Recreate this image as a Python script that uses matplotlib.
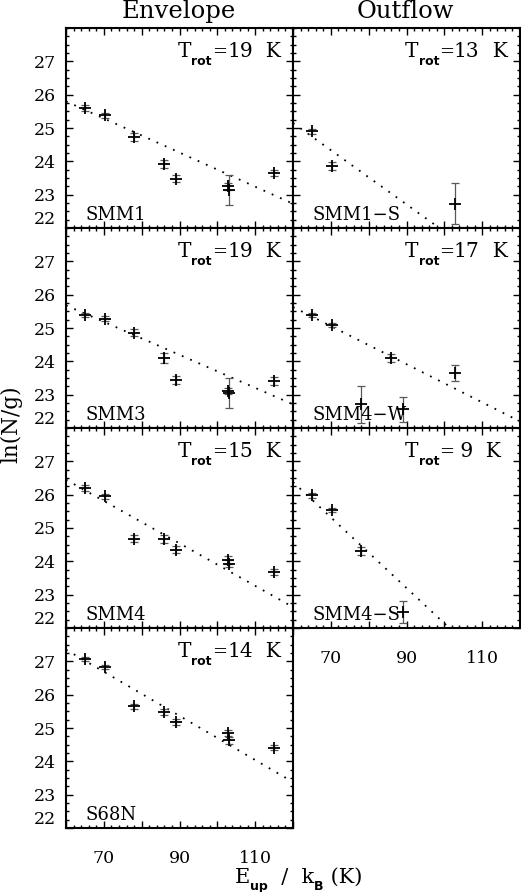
import numpy as np
import matplotlib
matplotlib.use("Agg")
import matplotlib.pyplot as plt
from matplotlib.ticker import MultipleLocator, FixedLocator, NullFormatter

plt.rcParams["font.family"] = "DejaVu Serif"
plt.rcParams["axes.linewidth"] = 1.5

# upper level energies (K) of the observed lines
e_up = [65.0, 70.3, 78.0, 85.9, 89.0, 102.8, 103.1, 115.0]

smm1_y = [25.60, 25.38, 24.72, 23.93, 23.48, 23.25, 23.15, 23.65]
smm1_err = [0.08, 0.08, 0.12, 0.12, 0.10, 0.10, 0.45, 0.10]

smm3_y = [25.40, 25.28, 24.86, 24.10, 23.45, 23.11, 23.05, 23.40]
smm3_err = [0.06, 0.08, 0.10, 0.15, 0.12, 0.10, 0.45, 0.12]

smm4_y = [26.20, 25.95, 24.68, 24.68, 24.35, 24.05, 23.93, 23.68]
smm4_err = [0.08, 0.08, 0.10, 0.12, 0.10, 0.12, 0.10, 0.10]

s68n_y = [27.08, 26.83, 25.65, 25.48, 25.18, 24.85, 24.63, 24.41]
s68n_err = [0.06, 0.06, 0.08, 0.08, 0.10, 0.10, 0.10, 0.08]

smm1s_x = [65.0, 70.4, 102.8]
smm1s_y = [24.90, 23.85, 22.73]
smm1s_err = [0.08, 0.12, 0.62]

smm4w_x = [65.0, 70.4, 77.9, 86.0, 89.0, 102.8]
smm4w_y = [25.40, 25.10, 22.71, 24.10, 22.56, 23.65]
smm4w_err = [0.06, 0.06, 0.56, 0.12, 0.38, 0.24]

smm4s_x = [65.0, 70.4, 77.9, 89.0]
smm4s_y = [25.98, 25.53, 24.30, 22.47]
smm4s_err = [0.08, 0.06, 0.12, 0.33]

# rotation diagram fits: ln(N/g) at E=60 K and slope (-1/T)
names = ["SMM1", "SMM3", "SMM4", "S68N", "SMM1-S", "SMM4-W", "SMM4-S"]
t_rot = [19, 19, 15, 14, 13, 17, 9]
fit_y60 = [25.80, 25.68, 26.45, 27.35, 25.15, 25.63, 26.38]
fit_slope = [-0.0512, -0.0495, -0.0637, -0.0662, -0.0814, -0.0572, -0.106]

W, H = 521, 892
col_x = [66, 293]
col_w = 227
row_top = [28, 228, 428, 628]
row_h = 200

SERIF = dict(family="DejaVu Serif")
SUB = dict(family="DejaVu Sans", weight="bold")


def panel_axes(fig, col, row):
    left = col_x[col] / W
    bottom = 1 - (row_top[row] + row_h) / H
    return fig.add_axes([left, bottom, col_w / W, row_h / H])


def style_axes(ax, show_x, show_y):
    ax.set_xlim(60, 120)
    ax.set_ylim(22, 28)
    ax.xaxis.set_major_locator(FixedLocator([60, 70, 80, 90, 100, 110, 120]))
    ax.xaxis.set_minor_locator(MultipleLocator(2))
    ax.yaxis.set_major_locator(FixedLocator([22, 23, 24, 25, 26, 27]))
    ax.yaxis.set_minor_locator(MultipleLocator(0.25))
    ax.tick_params(which="both", direction="in", top=True, right=True,
                   labelsize=12.5, width=1.0)
    ax.tick_params(which="major", length=5)
    ax.tick_params(which="minor", length=2.5)
    ax.tick_params(axis="x", pad=16)
    ax.tick_params(axis="y", pad=7)
    if show_x:
        ax.set_xticklabels(["", "70", "", "90", "", "110", ""])
    else:
        ax.xaxis.set_major_formatter(NullFormatter())
    if show_y:
        ax.set_yticklabels(["22", "23", "24", "25", "26", "27"])
        ax.get_yticklabels()[0].set_verticalalignment("bottom")
    else:
        ax.yaxis.set_major_formatter(NullFormatter())


def chain_text(fig, renderer, x_px, y_px, pieces):
    # pieces: (string, fontsize, font dict, baseline shift in px)
    for s, size, font, dy in pieces:
        t = fig.text(x_px / W, 1 - (y_px + dy) / H, s, fontsize=size,
                     ha="left", va="baseline", **font)
        x_px = t.get_window_extent(renderer).x1


def draw_panel(ax, idx, x, y, err):
    xx = np.linspace(60, 120, 200)
    ax.plot(xx, fit_y60[idx] + fit_slope[idx] * (xx - 60), color="black",
            linestyle=(0, (1, 4)), lw=1.3)
    ax.errorbar(x, y, yerr=err, fmt="none", ecolor="0.35", elinewidth=0.9,
                capsize=3, capthick=0.9)
    ax.plot(x, y, "+", color="black", ms=9, mew=1.3)
    ax.text(0.084, 0.04, names[idx].replace("-", "\u2212"),
            transform=ax.transAxes, ha="left", va="baseline", fontsize=13)


fig = plt.figure(figsize=(W / 100, H / 100), dpi=100)
renderer = fig.canvas.get_renderer()

panels = []
left_data = [(e_up, smm1_y, smm1_err), (e_up, smm3_y, smm3_err),
             (e_up, smm4_y, smm4_err), (e_up, s68n_y, s68n_err)]
for row, (x, y, err) in enumerate(left_data):
    ax = panel_axes(fig, 0, row)
    draw_panel(ax, row, x, y, err)
    style_axes(ax, show_x=(row == 3), show_y=True)
    panels.append((0, row))

right_data = [(smm1s_x, smm1s_y, smm1s_err), (smm4w_x, smm4w_y, smm4w_err),
              (smm4s_x, smm4s_y, smm4s_err)]
for row, (x, y, err) in enumerate(right_data):
    ax = panel_axes(fig, 1, row)
    draw_panel(ax, 4 + row, x, y, err)
    style_axes(ax, show_x=(row == 2), show_y=False)
    panels.append((1, row))

for idx, (col, row) in enumerate(panels):
    t = t_rot[idx]
    value = "%d" % t if t >= 10 else " %d" % t
    chain_text(fig, renderer, col_x[col] + 112, row_top[row] + 29,
               [("T", 14.5, SERIF, 0), ("rot", 9, SUB, 8), ("=", 13, SERIF, 0),
                (value, 14.5, SERIF, 0), ("  K", 14.5, SERIF, 0)])

fig.text(179 / W, 1 - 18 / H, "Envelope", ha="center", va="baseline", fontsize=17.5)
fig.text(405 / W, 1 - 18 / H, "Outflow", ha="center", va="baseline", fontsize=17.5)
fig.text(11 / W, 1 - 424 / H, "ln(N/g)", rotation=90, ha="center", va="center",
         fontsize=15.5)
chain_text(fig, renderer, 235, 883,
           [("E", 15, SERIF, 0), ("up", 9, SUB, 7), ("  /  k", 15, SERIF, 0),
            ("B", 9, SUB, 7), (" (K)", 15, SERIF, 0)])

fig.savefig("out.png", dpi=100)
